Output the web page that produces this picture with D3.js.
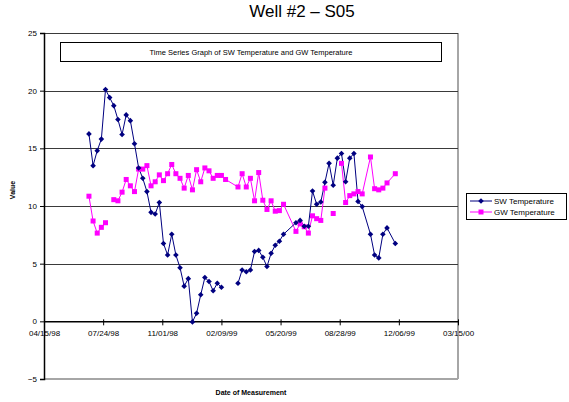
<!DOCTYPE html>
<html>
<head>
<meta charset="utf-8">
<script src="https://cdn.jsdelivr.net/npm/d3@7"></script>
<style>
body { margin: 0; background: #fff; }
text { font-family: Arial, "Liberation Sans", sans-serif; }
</style>
</head>
<body>
<div id="plotSect"></div>
<script>
// data //

let dates = ["06/30/98","07/07/98","07/14/98","07/21/98","07/28/98","08/04/98","08/11/98","08/18/98",
    "08/25/98","09/01/98","09/08/98","09/15/98","09/22/98","09/29/98","10/06/98","10/13/98",
    "10/20/98","10/27/98","11/03/98","11/10/98","11/17/98","11/24/98","12/01/98","12/08/98",
    "12/15/98","12/22/98","12/29/98","01/05/99","01/12/99","01/19/99","01/26/99","02/02/99",
    "02/09/99","02/16/99","03/09/99","03/16/99","03/23/99","03/30/99","04/06/99","04/13/99",
    "04/20/99","04/27/99","05/04/99","05/11/99","05/18/99","05/25/99","06/15/99","06/22/99",
    "06/29/99","07/06/99","07/13/99","07/20/99","07/27/99","08/03/99","08/10/99","08/17/99",
    "08/24/99","08/31/99","09/07/99","09/14/99","09/21/99","09/28/99","10/05/99","10/19/99",
    "10/26/99","11/02/99","11/09/99","11/16/99","11/30/99"];

let swTemp = [16.25,13.5,14.8,15.8,20.1,19.4,18.7,17.5,
    16.2,17.9,17.4,15.4,13.3,12.4,11.25,9.45,
    9.3,10.3,6.75,5.75,7.55,5.75,4.65,3.05,
    3.7,-0.05,0.7,2.3,3.8,3.45,2.65,3.3,
    2.95,null,3.3,4.45,4.3,4.45,6.05,6.15,
    5.55,4.75,5.9,6.6,6.95,7.55,8.55,8.75,
    8.25,8.25,11.3,10.15,10.35,12.05,13.7,11.8,
    14.15,14.55,12.1,14.15,14.55,10.4,9.95,7.55,
    5.75,5.5,7.55,8.1,6.75];

let gwTemp = [10.85,8.7,7.65,8.15,8.55,null,10.55,10.45,
    11.2,12.3,11.75,11.25,13.2,13.2,13.5,11.75,
    12.1,12.7,12.2,12.8,13.6,12.8,12.4,11.55,
    12.65,11.4,13.15,12.1,13.3,13.05,12.4,12.65,
    12.65,12.3,11.65,12.8,11.65,12.4,10.45,12.9,
    10.5,9.7,10.45,9.55,9.6,10.15,7.8,8.45,
    8.2,7.65,9.15,8.9,8.75,11.55,null,9.35,
    null,13.7,10.3,10.9,11.05,11.25,11.05,14.25,
    11.5,11.4,11.55,12.0,12.8];

let xTicks = ["04/15/98","07/24/98","11/01/98","02/09/99","05/20/99","08/28/99","12/06/99","03/15/00"];
let yTicks = [-5,0,5,10,15,20,25];
let gridValues = [5,10,15,20,25];

// chart setup //

let SVGwidth = 569,
SVGheight = 402,
margin = {top: 33, right: 111, bottom: 23, left: 44},
width = SVGwidth - margin.left - margin.right,
height = SVGheight - margin.top - margin.bottom;

let parseDate = d3.timeParse("%m/%d/%y");

let svg = d3.select("#plotSect").append("svg")
    .attr("width", SVGwidth)
    .attr("height", SVGheight);

let g = svg.append("g")
    .attr("transform", "translate(" + margin.left + "," + margin.top + ")");

let xScale = d3.scaleTime()
    .domain([parseDate(xTicks[0]), parseDate(xTicks[xTicks.length - 1])])
    .range([0, width]);

let yScale = d3.scaleLinear()
    .domain([-5, 25])
    .range([height, 0]);

let swData = dates.map(function(d, i) { return {date: parseDate(d), value: swTemp[i]}; });
let gwData = dates.map(function(d, i) { return {date: parseDate(d), value: gwTemp[i]}; });

// plot area border (right and bottom in grey)
g.append("line")
    .attr("x1", width).attr("x2", width)
    .attr("y1", 0).attr("y2", height)
    .style("stroke", "#a6a6a6")
    .style("stroke-width", 2);

g.append("line")
    .attr("x1", 0).attr("x2", width)
    .attr("y1", height).attr("y2", height)
    .style("stroke", "#a6a6a6")
    .style("stroke-width", 2);

// gridlines
g.selectAll(".grid")
    .data(gridValues)
    .enter().append("line")
    .attr("class", "grid")
    .attr("x1", 0)
    .attr("x2", width)
    .attr("y1", function(d) { return Math.round(yScale(d)) + 0.5; })
    .attr("y2", function(d) { return Math.round(yScale(d)) + 0.5; })
    .style("stroke", "#3a3a3a")
    .style("stroke-width", 1);

// y axis
let yAxis = d3.axisLeft(yScale)
    .tickValues(yTicks)
    .tickSize(4)
    .tickPadding(3);

let yG = g.append("g").call(yAxis);
yG.select(".domain").style("stroke", "#000").style("stroke-width", 1.5);
yG.selectAll(".tick line").style("stroke", "#000");
yG.selectAll("text").style("font-size", "8px").style("fill", "#000")
    .style("font-family", "Arial, 'Liberation Sans', sans-serif");

// x axis sits on zero
let xAxis = d3.axisBottom(xScale)
    .tickValues(xTicks.map(parseDate))
    .tickFormat(d3.timeFormat("%m/%d/%y"))
    .tickSizeInner(4)
    .tickSizeOuter(0)
    .tickPadding(5);

let xG = g.append("g")
    .attr("transform", "translate(0," + yScale(0) + ")")
    .call(xAxis);
xG.select(".domain").style("stroke", "#000").style("stroke-width", 1.5);
xG.selectAll(".tick line").style("stroke", "#000").attr("y1", -2);
xG.selectAll("text").style("font-size", "8px").style("fill", "#000")
    .style("font-family", "Arial, 'Liberation Sans', sans-serif");

// series lines
let line = d3.line()
    .defined(function(d) { return d.value !== null; })
    .x(function(d) { return xScale(d.date); })
    .y(function(d) { return yScale(d.value); });

g.append("path")
    .datum(gwData)
    .attr("d", line)
    .style("fill", "none")
    .style("stroke", "#ff00ff")
    .style("stroke-width", 1);

g.append("path")
    .datum(swData)
    .attr("d", line)
    .style("fill", "none")
    .style("stroke", "#000080")
    .style("stroke-width", 1);

// markers
g.selectAll(".gwPt")
    .data(gwData.filter(function(d) { return d.value !== null; }))
    .enter().append("rect")
    .attr("class", "gwPt")
    .attr("x", function(d) { return xScale(d.date) - 2.5; })
    .attr("y", function(d) { return yScale(d.value) - 2.5; })
    .attr("width", 5)
    .attr("height", 5)
    .style("fill", "#ff00ff");

let diamond = d3.symbol().type(d3.symbolDiamond2).size(20);

g.selectAll(".swPt")
    .data(swData.filter(function(d) { return d.value !== null; }))
    .enter().append("path")
    .attr("class", "swPt")
    .attr("d", diamond)
    .attr("transform", function(d) { return "translate(" + xScale(d.date) + "," + yScale(d.value) + ")"; })
    .style("fill", "#000080");

// text box inside the plot
g.append("rect")
    .attr("x", 16.5)
    .attr("y", 9.5)
    .attr("width", 381)
    .attr("height", 19)
    .style("fill", "#fff")
    .style("stroke", "#000")
    .style("stroke-width", 1);

g.append("text")
    .attr("x", 16.5 + 381 / 2)
    .attr("y", 21.5)
    .style("text-anchor", "middle")
    .style("font-size", "7.5px")
    .text("Time Series Graph of SW Temperature and GW Temperature");

// titles
svg.append("text")
    .attr("x", 302)
    .attr("y", 17)
    .style("text-anchor", "middle")
    .style("font-size", "17px")
    .text("Well #2 \u2013 S05");

svg.append("text")
    .attr("x", 251)
    .attr("y", 395)
    .style("text-anchor", "middle")
    .style("font-size", "7px")
    .style("font-weight", "bold")
    .text("Date of Measurement");

svg.append("text")
    .attr("transform", "translate(15,190) rotate(-90)")
    .style("text-anchor", "middle")
    .style("font-size", "7px")
    .style("font-weight", "bold")
    .text("Value");

// legend
let legendX = 466, legendY = 193;
svg.append("rect")
    .attr("x", legendX + 0.5)
    .attr("y", legendY + 0.5)
    .attr("width", 100)
    .attr("height", 26)
    .style("fill", "#fff")
    .style("stroke", "#000");

let series = [
    {name: "SW Temperature", color: "#000080", shape: "diamond"},
    {name: "GW Temperature", color: "#ff00ff", shape: "square"}
];

let legend = svg.selectAll(".legend")
    .data(series)
    .enter().append("g")
    .attr("class", "legend")
    .attr("transform", function(d, i) { return "translate(" + legendX + "," + (legendY + 8 + i * 11) + ")"; });

legend.append("line")
    .attr("x1", 4).attr("x2", 26)
    .attr("y1", 0).attr("y2", 0)
    .style("stroke", function(d) { return d.color; });

legend.append("path")
    .attr("d", function(d) {
        return d.shape === "diamond" ? diamond() : d3.symbol().type(d3.symbolSquare).size(25)();
    })
    .attr("transform", "translate(15,0)")
    .style("fill", function(d) { return d.color; });

legend.append("text")
    .attr("x", 28)
    .attr("y", 3)
    .style("font-size", "8px")
    .text(function(d) { return d.name; });
</script>
</body>
</html>
